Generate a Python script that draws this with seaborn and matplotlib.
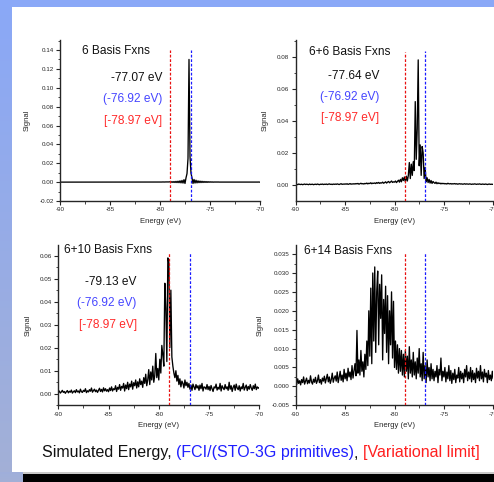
import numpy as np
import pandas as pd
import matplotlib
matplotlib.use("Agg")
import matplotlib.pyplot as plt
import seaborn as sns
from matplotlib.patches import Rectangle
from matplotlib.ticker import MultipleLocator, FormatStrFormatter

# ---------------------------------------------------------------- data
# Energy grid (eV) shared by every spectrum, 0.1 eV sampling
energy = np.round(np.arange(-90.0, -69.95, 0.1), 1)

# Spectra, in units of 1e-4 signal, one row per 1 eV (-90.0 ... -70.0)
signal_6 = (
    [0] * 100 +
    [1, 1, 1, 2, 1, 2, 2, 2, 3, 2] +                  # -80
    [4, -2, 5, -3, 6, -4, 8, -5, 10, -6] +            # -79
    [14, -8, 18, -10, 26, -14, 45, 90, 250, 1300] +   # -78
    [270, 95, 45, -14, 28, -10, 20, -8, 14, -6] +     # -77
    [11, -5, 9, -4, 7, -3, 6, -3, 5, -2] +            # -76
    [4, -1, 3, -1, 2, 0, 2, 0, 2, 0] +                # -75
    [1, 0, 1, 0, 1, 0, 1, 0, 1, 0] * 4 +              # -74 ... -71
    [0]
)

signal_6_6 = (
    [3, 5, 2, 6, 4, 3, 5, 2, 4, 6] +
    [3, 5, 4, 2, 6, 3, 4, 5, 2, 4] +
    [5, 3, 6, 4, 2, 5, 4, 6, 3, 5] +
    [4, 6, 3, 5, 7, 4, 5, 3, 6, 4] +
    [6, 4, 7, 5, 3, 6, 8, 4, 6, 5] +
    [7, 5, 8, 4, 6, 9, 5, 7, 6, 8] +
    [6, 9, 7, 10, 5, 8, 11, 7, 9, 6] +
    [10, 8, 12, 7, 11, 9, 14, 8, 12, 10] +
    [13, 9, 15, 11, 16, 10, 14, 12, 18, 11] +
    [15, 20, 12, 18, 22, 14, 19, 25, 16, 20] +
    [18, 25, 15, 22, 30, 18, 35, 20, 45, 28] +       # -80
    [50, 20, 55, 25, 60, 140, 40, 130, 60, 145] +    # -79
    [90, 520, 160, 350, 780, 120, 250, 60, 240, 200] +  # -78
    [40, 110, 20, 45, 15, 35, 12, 28, 10, 22] +      # -77
    [15, 10, 18, 8, 14, 9, 12, 7, 11, 8] +
    [10, 7, 9, 6, 11, 8, 7, 9, 6, 8] +
    [7, 9, 6, 8, 5, 7, 8, 6, 7, 5] +
    [6, 8, 5, 7, 6, 5, 7, 6, 4, 6] +
    [5, 7, 6, 4, 6, 5, 7, 5, 4, 6] +
    [5, 4, 6, 5, 3, 5, 6, 4, 5, 4] +
    [5]
)

signal_6_10 = (
    [5, 12, 3, 8, 15, 6, 10, 2, 9, 14] +
    [4, 11, 7, 16, 3, 9, 13, 5, 18, 8] +
    [12, 4, 20, 9, 6, 15, 10, 22, 5, 13] +
    [8, 18, 11, 25, 7, 14, 20, 9, 16, 6] +
    [15, 24, 10, 19, 8, 26, 13, 22, 11, 18] +
    [9, 25, 14, 30, 12, 22, 18, 35, 10, 28] +
    [20, 40, 15, 32, 25, 45, 12, 38, 22, 50] +
    [18, 42, 30, 55, 20, 48, 35, 60, 25, 52] +
    [30, 65, 40, 55, 28, 70, 45, 85, 35, 60] +
    [105, 40, 95, 60, 120, 50, 80, 175, 70, 110] +      # -81
    [60, 150, 90, 210, 170, 120, 480, 370, 140, 590] +  # -80
    [570, 200, 450, 160, 120, 90, 70, 100, 55, 80] +    # -79
    [40, 65, 30, 55, 45, 25, 60, 35, 50, 28] +
    [45, 20, 38, 15, 42, 30, 18, 40, 25, 35] +
    [15, 38, 22, 45, 12, 30, 28, 20, 40, 18] +
    [32, 14, 36, 22, 10, 30, 25, 42, 16, 28] +
    [20, 45, 12, 35, 25, 18, 40, 22, 30, 15] +
    [50, 20, 35, 10, 28, 38, 15, 42, 25, 18] +
    [35, 12, 30, 22, 45, 16, 28, 38, 14, 32] +
    [20, 40, 25, 15, 35, 22, 42, 18, 30, 24] +
    [28]
)

signal_6_14 = (
    [12, 5, 20, 8, 15, 4, 18, 10, 25, 6] +
    [14, 22, 7, 16, 9, 28, 12, 6, 19, 11] +
    [24, 8, 15, 30, 10, 18, 6, 22, 14, 27] +
    [9, 20, 32, 12, 25, 8, 18, 35, 11, 22] +
    [28, 14, 38, 10, 24, 40, 16, 30, 12, 45] +
    [20, 35, 15, 48, 25, 38, 18, 55, 22, 42] +
    [60, 28, 148, 35, 70, 30, 95, 40, 65, 25] +         # -84
    [85, 45, 120, 55, 200, 80, 260, 60, 300, 120] +     # -83
    [316, 90, 250, 305, 110, 270, 180, 295, 70, 230] +  # -82
    [140, 265, 90, 240, 60, 200, 110, 250, 75, 225] +   # -81
    [50, 120, 45, 110, 35, 100, 40, 95, 30, 85] +       # -80
    [25, 95, 40, 80, 20, 105, 35, 70, 25, 90] +
    [30, 65, 20, 75, 35, 100, 25, 60, 15, 90] +
    [20, 55, 10, 70, 25, 50, 15, 60, 20, 45] +
    [15, 40, 25, 55, 10, 45, 30, 75, 15, 40] +
    [25, 50, 12, 38, 20, 55, 15, 42, 8, 35] +
    [18, 45, 10, 30, 22, 50, 12, 40, 20, 35] +
    [10, 45, 25, 55, 15, 38, 20, 50, 12, 42] +
    [18, 35, 10, 48, 22, 40, 15, 55, 20, 38] +
    [12, 45, 25, 35, 10, 42, 18, 30, 15, 40] +
    [20]
)

panel_titles = ["6 Basis Fxns", "6+6 Basis Fxns", "6+10 Basis Fxns", "6+14 Basis Fxns"]
simulated_labels = ["-77.07 eV", "-77.64 eV", "-79.13 eV", ""]
fci_energy = -76.92          # FCI/(STO-3G primitives)
variational_limit = -78.97   # variational limit
fci_label = "(-76.92 eV)"
limit_label = "[-78.97 eV]"

# ---------------------------------------------------------------- style
sns.set_style("ticks")
plt.rcParams["font.family"] = ["Liberation Sans", "DejaVu Sans"]

W, H = 494, 482
fig = plt.figure(figsize=(W / 100, H / 100), dpi=100)
fig.patch.set_facecolor("white")

# slide frame: blue left/top strips and black footer bar
bg = fig.add_axes([0, 0, 1, 1], zorder=-10)
bg.set_axis_off()
grad = np.linspace(0, 1, 256)[:, None]
top_c = np.array([138, 168, 247]) / 255
bot_c = np.array([163, 176, 214]) / 255
strip = top_c[None, None, :] * (1 - grad[:, :, None]) + bot_c[None, None, :] * grad[:, :, None]
bg.imshow(strip, extent=[0, 11, H, 0], aspect="auto", interpolation="bilinear")
bg.imshow(strip[-40:], extent=[0, 23, H, 472], aspect="auto")
bg.add_patch(Rectangle((0, 0), W, 7, color=tuple(top_c), lw=0))
bg.add_patch(Rectangle((23, 472), W - 23, 1.5, color="#c8c8c8", lw=0))
bg.add_patch(Rectangle((23, 473.5), W - 23, H - 473.5, color="black", lw=0))
bg.set_xlim(0, W)
bg.set_ylim(H, 0)


def px_rect(left, top, right, bottom):
    return [left / W, 1 - bottom / H, (right - left) / W, (bottom - top) / H]


panels = [
    dict(rect=(60, 40, 260, 201), sig=signal_6, ylim=(-0.02, 0.1506),
         major=0.02, minor=0.01, fmt="%.2f", title_xy=(0.11, 0.932),
         text_x=0.51, text_y=(0.764, 0.634, 0.497), vtop=(0.938, 0.94)),
    dict(rect=(295.7, 40, 493.3, 201), sig=signal_6_6, ylim=(-0.00997, 0.0904),
         major=0.02, minor=0.01, fmt="%.2f", title_xy=(0.069, 0.927),
         text_x=0.423, text_y=(0.776, 0.648, 0.514), vtop=(0.927, 0.93)),
    dict(rect=(58.3, 245, 259.3, 405.3), sig=signal_6_10, ylim=(-0.005, 0.0646),
         major=0.01, minor=0.005, fmt="%.2f", title_xy=(0.028, 0.969),
         text_x=0.39, text_y=(0.771, 0.64, 0.501), vtop=(0.958, 0.954)),
    dict(rect=(295.7, 245, 493.3, 405.3), sig=signal_6_14, ylim=(-0.005, 0.0374),
         major=0.005, minor=0.0025, fmt="%.3f", title_xy=(0.044, 0.965),
         text_x=None, text_y=None, vtop=(0.952, 0.958)),
]

tick_fs = 4.5
label_fs = 5.5
annot_fs = 8.6
blue_text = "#4646ff"
red_text = "#ff2a2a"

for i, p in enumerate(panels):
    ax = fig.add_axes(px_rect(*p["rect"]))
    ax.set_facecolor("none")
    df = pd.DataFrame({"Energy (eV)": energy, "Signal": np.array(p["sig"]) * 1e-4})
    sns.lineplot(data=df, x="Energy (eV)", y="Signal", ax=ax, color="black",
                 lw=0.95, estimator=None, sort=False)
    ax.axvline(variational_limit, ymin=0, ymax=p["vtop"][0], color="#e81010",
               lw=0.9, ls=(0, (2.2, 1.4)), zorder=5)
    ax.axvline(fci_energy, ymin=0, ymax=p["vtop"][1], color="#1a1aff",
               lw=0.9, ls=(0, (2.2, 1.4)), zorder=5)

    ax.set_xlim(-90, -70)
    ax.set_ylim(*p["ylim"])
    ax.xaxis.set_major_locator(MultipleLocator(5))
    ax.xaxis.set_minor_locator(MultipleLocator(2.5))
    ax.yaxis.set_major_locator(MultipleLocator(p["major"]))
    ax.yaxis.set_minor_locator(MultipleLocator(p["minor"]))
    ax.yaxis.set_major_formatter(FormatStrFormatter(p["fmt"]))
    ax.xaxis.set_major_formatter(FormatStrFormatter("%d"))
    ax.tick_params(which="major", direction="out", length=3, width=0.8,
                   labelsize=tick_fs, pad=1.5)
    ax.tick_params(which="minor", direction="out", length=1.8, width=0.6)
    for side in ("top", "right"):
        ax.spines[side].set_visible(False)
    for side in ("left", "bottom"):
        ax.spines[side].set_linewidth(1.0)
    ax.set_xlabel("Energy (eV)", fontsize=label_fs, labelpad=4)
    ax.set_ylabel("Signal", fontsize=label_fs, labelpad=6)

    ax.text(*p["title_xy"], panel_titles[i], transform=ax.transAxes,
            fontsize=annot_fs, ha="left", va="center", color="#111111")
    if p["text_x"] is not None:
        tx = p["text_x"]
        ty = p["text_y"]
        ax.text(tx, ty[0], simulated_labels[i], transform=ax.transAxes,
                fontsize=annot_fs, ha="right", va="center", color="#111111")
        ax.text(tx, ty[1], fci_label, transform=ax.transAxes,
                fontsize=annot_fs, ha="right", va="center", color=blue_text)
        ax.text(tx, ty[2], limit_label, transform=ax.transAxes,
                fontsize=annot_fs, ha="right", va="center", color=red_text)

# caption with coloured parts, laid out left to right
caption_parts = [("Simulated Energy, ", "#111111"),
                 ("(FCI/(STO-3G primitives)", "#1f1fff"),
                 (", ", "#111111"),
                 ("[Variational limit]", "#ff1f1f")]
renderer = fig.canvas.get_renderer()
x_px = 41.7
y_frac = 1 - 453 / H
for txt, col in caption_parts:
    t = fig.text(x_px / W, y_frac, txt, color=col, fontsize=11.5,
                 ha="left", va="center")
    bb = t.get_window_extent(renderer=renderer)
    x_px += bb.width

fig.savefig("out.png", dpi=100)
